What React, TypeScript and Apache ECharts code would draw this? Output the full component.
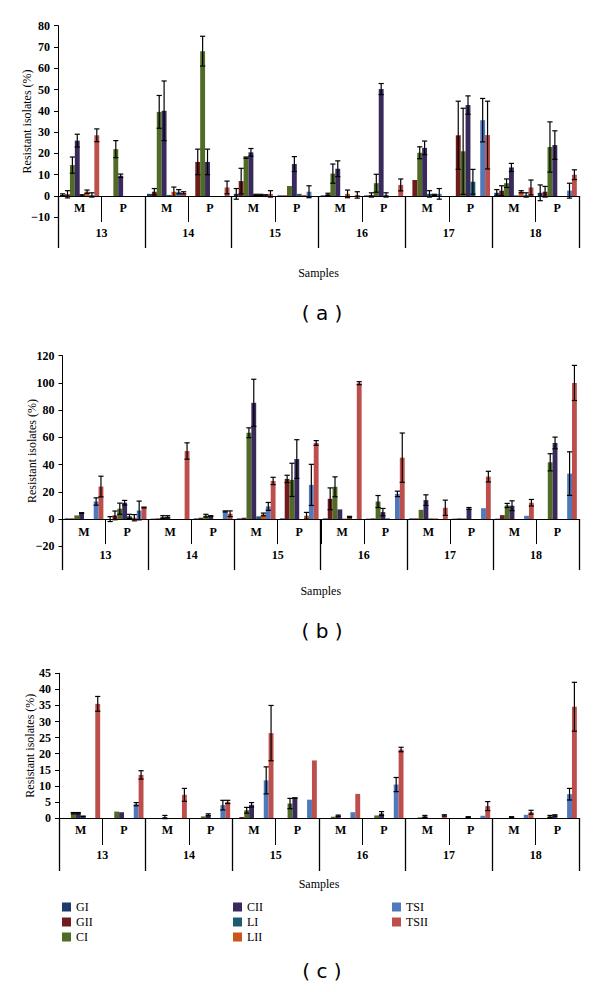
import React, { useEffect, useRef } from 'react';
import * as echarts from 'echarts';

const SERIES_NAMES = ['GI', 'GII', 'CI', 'CII', 'LI', 'LII', 'TSI', 'TSII'];
const SERIES_COLORS = ['#1C3A6B', '#701C1C', '#4F6B26', '#3A2A5C', '#205A70', '#C8561B', '#5079BC', '#BC4F4C'];
const SUBGROUPS = ['M', 'P', 'M', 'P', 'M', 'P', 'M', 'P', 'M', 'P', 'M', 'P'];
const SAMPLES = ['13', '14', '15', '16', '17', '18'];

// Panel (a): rows = GI, GII, CI, CII, LI, LII, TSI, TSII; columns = 13M,13P,...,18P
const A_VALUES = [
  [0.5, 0, 1, 0, 1, 0.3, 0.3, 0.3, 0, 0, 1.5, 1.5],
  [0.8, 0, 2, 16, 7, 0.3, 0.8, 0.5, 7.5, 28.5, 2.5, 2],
  [14.5, 22, 39.5, 68, 18, 4.7, 10.5, 6, 20.3, 21, 6, 23],
  [26, 9.5, 40, 16, 20.5, 15, 12.8, 50.2, 22.6, 42.7, 13.4, 23.9],
  [0.3, 0, 0.5, 0, 0.5, 1, 0, 0.5, 1, 6.7, 0.3, 0],
  [2, 0, 2, 0, 0.5, 0.5, 1, 0, 0.5, 0, 2, 0],
  [0.5, 0, 2, 0, 0.3, 2, 0, 0, 1, 35.6, 0.5, 2.5],
  [28.5, 0, 1.5, 4, 1, 0, 0.5, 5.2, 0, 28.6, 4, 10],
];
const A_ERRORS = [
  [0.5, 0, 0, 0, 2.5, 0, 0, 0, 0, 0, 1.5, 3.7],
  [1.7, 0, 1.5, 6, 6, 0, 0.5, 1, 0, 16, 2.3, 2.5],
  [3.8, 4, 7.7, 7, 0.3, 0, 4.5, 4.2, 2.8, 20.2, 2, 11.8],
  [3, 0.8, 14, 6, 1.8, 3.5, 3.7, 2.6, 3.2, 4.3, 1.9, 6.7],
  [0.3, 0, 0, 0, 0.3, 0, 0, 1, 1.5, 5.8, 0, 0],
  [0.8, 0, 2.2, 0, 0.3, 0, 1.8, 0, 0.3, 0, 0.5, 0],
  [1, 0, 1, 0, 0.3, 2.8, 0, 0, 2.5, 10.2, 1, 3.5],
  [3, 0, 0.5, 3, 1.5, 0, 1.5, 2.8, 0, 15.9, 3.5, 2.3],
];

// Panel (b)
const B_VALUES = [
  [0.5, 0, 0.3, 0.5, 0.5, 0.5, 0.5, 0.3, 0.5, 0.3, 0.3, 0],
  [0.5, 2.7, 0.5, 1, 1, 29.5, 14.9, 0.5, 0.5, 0.5, 2.9, 0],
  [2.7, 7.6, 1.5, 2.5, 63.4, 28.8, 23.7, 12.9, 6.8, 0.5, 10, 41.7],
  [4.4, 12, 1.7, 2.2, 85.4, 44.1, 7.1, 5.1, 13.9, 7.8, 9.8, 55.9],
  [0, 2, 0, 0, 2, 0, 0.3, 0.5, 0.5, 0, 0, 0],
  [0, 1, 0, 0, 3.4, 2.4, 1.5, 0, 0.5, 0, 0, 0],
  [12.9, 6.3, 0, 5.6, 9.3, 25.1, 0, 18.5, 0, 8, 2.4, 33.4],
  [23.9, 8.5, 50, 3.9, 28, 55.9, 99.8, 45.1, 8.3, 31.2, 12, 100],
];
const B_ERRORS = [
  [0, 1.8, 0, 0, 0, 0, 0, 0, 0, 0, 0, 0],
  [0, 3.2, 0, 0, 0, 2.7, 8, 0, 0, 0, 0, 0],
  [0, 4.1, 1, 1, 3.6, 12.2, 7.3, 4.4, 0, 0, 1.5, 6.3],
  [0.3, 1.7, 0.8, 0.3, 17.3, 14.2, 0, 2.7, 3.9, 0.7, 3.6, 4.3],
  [0, 1.5, 0, 0, 0, 0, 0, 0, 0, 0, 0, 0],
  [0, 2.3, 0, 0, 1, 2.5, 0.5, 0, 0, 0, 0, 0],
  [2.7, 6.9, 0, 0.4, 2.9, 15.1, 0, 2, 0, 0, 0, 16],
  [7.6, 0.3, 6, 2.1, 2.7, 1.7, 1.1, 18.1, 5.6, 3.9, 2.4, 12.9],
];

// Panel (c)
const C_VALUES = [
  [0, 0, 0, 0, 0, 0, 0, 0, 0, 0, 0, 0],
  [0, 0, 0, 0, 0.3, 0, 0, 0, 0, 0, 0, 0],
  [1.5, 2, 0, 0.5, 2.4, 4.5, 0.4, 0.8, 0.2, 0, 0, 0.5],
  [1.5, 1.8, 0.3, 1, 4.1, 6.2, 0.7, 1.4, 0.5, 0.3, 0.3, 0.8],
  [0.5, 0, 0, 0, 0, 0, 0, 0, 0, 0, 0, 0],
  [0, 0, 0, 0, 0, 0, 0, 0, 0, 0, 0, 0],
  [0, 4.3, 0, 4, 11.7, 5.7, 1.8, 10.4, 0, 0.7, 1, 7.4],
  [35.5, 13.4, 7.2, 5, 26.4, 17.9, 7.5, 21.3, 0.8, 3.7, 1.8, 34.6],
];
const C_ERRORS = [
  [0, 0, 0, 0, 0, 0, 0, 0, 0, 0, 0, 0],
  [0, 0, 0, 0, 0, 0, 0, 0, 0, 0, 0, 0],
  [0.2, 0, 0, 0, 0.9, 1.6, 0, 0, 0, 0, 0, 0.3],
  [0.2, 0, 0.5, 0.3, 0.7, 0.1, 0.2, 0.6, 0.3, 0.1, 0.1, 0.2],
  [0.1, 0, 0, 0, 0, 0, 0, 0, 0, 0, 0, 0],
  [0, 0, 0, 0, 0, 0, 0, 0, 0, 0, 0, 0],
  [0, 0.5, 0, 1.5, 4.2, 0, 0, 2.2, 0, 0, 0, 1.8],
  [2.3, 1.3, 2, 0.5, 8.6, 0, 0, 0.7, 0.2, 1.4, 0.6, 7.6],
];

const SERIF = "'Liberation Serif', 'DejaVu Serif', serif";
const CAT_GAP = 0.1;

const PANELS = [
  { values: A_VALUES, errors: A_ERRORS, min: -10, max: 80, interval: 10, left: 58, top: 25.6, height: 191.7, mpTick: 26, grpTick: 52, mpMargin: 6, grpMargin: 31, samplesGap: 71, nameGap: 25, tag: '( a )', tagY: 313 },
  { values: B_VALUES, errors: B_ERRORS, min: -20, max: 120, interval: 20, left: 62.5, top: 355.7, height: 190.6, mpTick: 25, grpTick: 51, mpMargin: 7, grpMargin: 30, samplesGap: 66, nameGap: 25, tag: '( b )', tagY: 631 },
  { values: C_VALUES, errors: C_ERRORS, min: 0, max: 45, interval: 5, left: 59, top: 673.3, height: 144.7, mpTick: 27, grpTick: 53, mpMargin: 6, grpMargin: 31, samplesGap: 60, nameGap: 23, tag: '( c )', tagY: 971 },
];

function buildOption() {
  const grid: any[] = [];
  const xAxis: any[] = [];
  const yAxis: any[] = [];
  const series: any[] = [];
  const graphic: any[] = [];

  PANELS.forEach((p, pi) => {
    const zeroLift = (p.height * (0 - p.min)) / (p.max - p.min);
    grid.push({ left: p.left, right: 21, top: p.top, height: p.height, containLabel: false });
    yAxis.push({
      type: 'value', gridIndex: pi, min: p.min, max: p.max, interval: p.interval,
      axisLine: { show: true, lineStyle: { color: '#000', width: 1 } },
      axisTick: { show: true, length: 4, lineStyle: { color: '#000' } },
      splitLine: { show: false },
      axisLabel: {
        formatter: (v: number) => (v < 0 ? '\u2212' + Math.abs(v) : String(v)),
        fontFamily: SERIF, fontWeight: 'bold', fontSize: 12, color: '#000', margin: 8,
      },
      name: 'Resistant isolates (%)', nameLocation: 'middle', nameGap: p.nameGap,
      nameMoveOverlap: false,
      nameTextStyle: { fontFamily: SERIF, fontSize: 12, color: '#000' },
    });
    xAxis.push({
      type: 'category', gridIndex: pi, data: SUBGROUPS, position: 'bottom', offset: -zeroLift,
      axisLine: { show: true, onZero: false, lineStyle: { color: '#000', width: 1 } },
      axisTick: { show: true, interval: 0, length: p.mpTick, alignWithLabel: false, lineStyle: { color: '#000' } },
      axisLabel: { interval: 0, margin: p.mpMargin, fontFamily: SERIF, fontWeight: 'bold', fontSize: 12, color: '#000' },
      splitLine: { show: false },
    });
    xAxis.push({
      type: 'category', gridIndex: pi, data: SAMPLES, position: 'bottom', offset: -zeroLift,
      axisLine: { show: false, onZero: false },
      axisTick: { show: true, interval: 0, length: p.grpTick, alignWithLabel: false, lineStyle: { color: '#000', width: 1.3 } },
      axisLabel: { interval: 0, margin: p.grpMargin, fontFamily: SERIF, fontWeight: 'bold', fontSize: 12, color: '#000' },
      splitLine: { show: false },
      name: 'Samples', nameLocation: 'middle', nameGap: p.samplesGap,
      nameMoveOverlap: false,
      nameTextStyle: { fontFamily: SERIF, fontSize: 12, color: '#000' },
    });
    const xi = pi * 2;
    SERIES_NAMES.forEach((name, si) => {
      series.push({
        type: 'bar', name, xAxisIndex: xi, yAxisIndex: pi,
        data: p.values[si], barGap: '0%', barCategoryGap: `${CAT_GAP * 100}%`,
        itemStyle: { color: SERIES_COLORS[si] },
        emphasis: { disabled: true },
      });
    });
    const errData: any[] = [];
    SERIES_NAMES.forEach((_, si) => {
      p.errors[si].forEach((e, ci) => {
        if (e > 0) errData.push([ci, p.values[si][ci], e, si]);
      });
    });
    series.push({
      type: 'custom', xAxisIndex: xi, yAxisIndex: pi, z: 10, data: errData,
      encode: { x: 0, y: 1 },
      renderItem: (params: any, api: any) => {
        const cat = api.value(0);
        const val = api.value(1);
        const err = api.value(2);
        const si = api.value(3);
        const band = api.size([1, 0])[0];
        const barW = (band * (1 - CAT_GAP)) / 8;
        const c = api.coord([cat, val]);
        const x = c[0] - (band * (1 - CAT_GAP)) / 2 + barW * (si + 0.5);
        const yt = api.coord([cat, val + err])[1];
        const yb = api.coord([cat, val - err])[1];
        const hw = 2.6;
        const st = { stroke: '#000', lineWidth: 1.2 };
        return {
          type: 'group',
          children: [
            { type: 'line', shape: { x1: x, y1: yt, x2: x, y2: yb }, style: st },
            { type: 'line', shape: { x1: x - hw, y1: yt, x2: x + hw, y2: yt }, style: st },
            { type: 'line', shape: { x1: x - hw, y1: yb, x2: x + hw, y2: yb }, style: st },
          ],
        };
      },
    });
    graphic.push({
      type: 'text', x: 322, y: p.tagY,
      style: { text: p.tag, font: '20px "DejaVu Sans", sans-serif', fill: '#000', align: 'center', verticalAlign: 'middle' },
    });
  });

  const legendBase = {
    orient: 'vertical', icon: 'rect', itemWidth: 9, itemHeight: 9, itemGap: 3,
    textStyle: { fontFamily: SERIF, fontSize: 12, color: '#000', lineHeight: 11 },
    selectedMode: false, top: 896,
  };
  const legend = [
    { ...legendBase, left: 57, data: SERIES_NAMES.slice(0, 3) },
    { ...legendBase, left: 228, data: SERIES_NAMES.slice(3, 6) },
    { ...legendBase, left: 387, data: SERIES_NAMES.slice(6, 8) },
  ];

  return { animation: false, backgroundColor: '#fff', grid, xAxis, yAxis, series, legend, graphic };
}

export default function App() {
  const ref = useRef<HTMLDivElement>(null);
  useEffect(() => {
    document.body.style.margin = '0';
    if (!ref.current) return;
    const chart = echarts.init(ref.current, undefined, { renderer: 'svg' });
    chart.setOption(buildOption() as any);
    return () => chart.dispose();
  }, []);
  return <div ref={ref} style={{ width: 600, height: 992 }} />;
}
